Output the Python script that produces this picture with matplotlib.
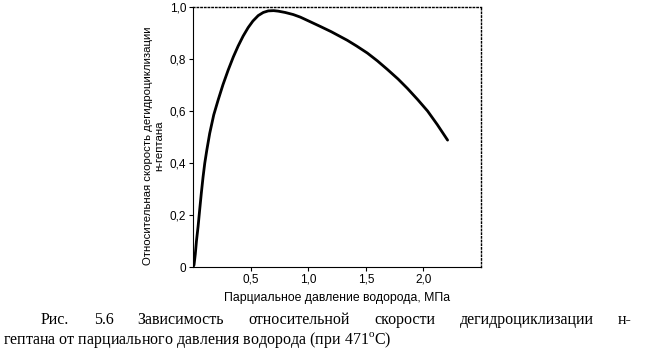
import matplotlib.pyplot as plt

# Curve: partial H2 pressure (MPa) vs relative rate
pressure = [0.0, 0.009, 0.02, 0.03, 0.044, 0.058, 0.072, 0.087, 0.102, 0.12,
            0.145, 0.18, 0.218, 0.26, 0.305, 0.35, 0.392, 0.435, 0.479, 0.52,
            0.566, 0.61, 0.653, 0.70, 0.740, 0.80, 0.87, 0.932, 1.0, 1.106,
            1.2, 1.339, 1.42, 1.513, 1.6, 1.687, 1.78, 1.861, 1.95, 2.036,
            2.12, 2.210]
rate = [0.0, 0.008, 0.05, 0.10, 0.155, 0.22, 0.283, 0.345, 0.399, 0.45,
        0.514, 0.585, 0.642, 0.701, 0.757, 0.808, 0.850, 0.888, 0.921, 0.946,
        0.967, 0.979, 0.985, 0.986, 0.984, 0.979, 0.971, 0.961, 0.947, 0.925,
        0.905, 0.872, 0.850, 0.823, 0.793, 0.760, 0.723, 0.687, 0.644, 0.600,
        0.548, 0.488]

xticks = [0.5, 1.0, 1.5, 2.0]
xlabels = ['0,5', '1,0', '1,5', '2,0']
yticks = [0, 0.2, 0.4, 0.6, 0.8, 1.0]
ylabels = ['0', '0,2', '0,4', '0,6', '0,8', '1,0']

plt.rcParams['font.family'] = ['Liberation Sans', 'DejaVu Sans']

fig = plt.figure(figsize=(6.5, 3.52), dpi=100)
ax = fig.add_axes([193 / 650, 1 - 267 / 352, 288 / 650, 260 / 352])

ax.plot(pressure, rate, color='black', lw=2.0, solid_capstyle='round',
        solid_joinstyle='round')
ax.set_xlim(0, 2.5)
ax.set_ylim(0, 1.0)
ax.set_xticks(xticks)
ax.set_xticklabels(xlabels)
ax.set_yticks(yticks)
ax.set_yticklabels(ylabels)
ax.tick_params(labelsize=8.5, length=3, width=0.8, pad=2)

for side in ['top', 'right']:
    ax.spines[side].set_linestyle(':')
    ax.spines[side].set_linewidth(1.0)
for side in ['left', 'bottom']:
    ax.spines[side].set_linewidth(0.8)

ax.set_xlabel('Парциальное давление водорода, МПа', fontsize=8.8, labelpad=4)
ax.set_ylabel('Относительная скорость дегидроциклизации\nн-гептана',
              fontsize=8.2)
ax.yaxis.set_label_coords(-0.10, 0.465)

# Caption: first line justified word by word, second line left aligned
line1 = 'Рис. 5.6 Зависимость относительной скорости дегидроциклизации н-'.split(' ')
line2 = 'гептана от парциального давления водорода (при 471$^\\mathregular{o}$С)'
cap_font = dict(fontsize=11.5, family=['Liberation Serif', 'DejaVu Serif'])

fig.canvas.draw()
renderer = fig.canvas.get_renderer()
x_start, x_end = 41, 632
y1 = 1 - 324 / 352
words = [fig.text(0, y1, w, **cap_font) for w in line1]
widths = [t.get_window_extent(renderer).width for t in words]
gap = (x_end - x_start - sum(widths)) / (len(words) - 1)
x = x_start
for t, w in zip(words, widths):
    t.set_x(x / 650)
    x += w + gap

fig.text(3 / 650, 1 - 344 / 352, line2, **cap_font)

fig.savefig('out.png', dpi=100)
